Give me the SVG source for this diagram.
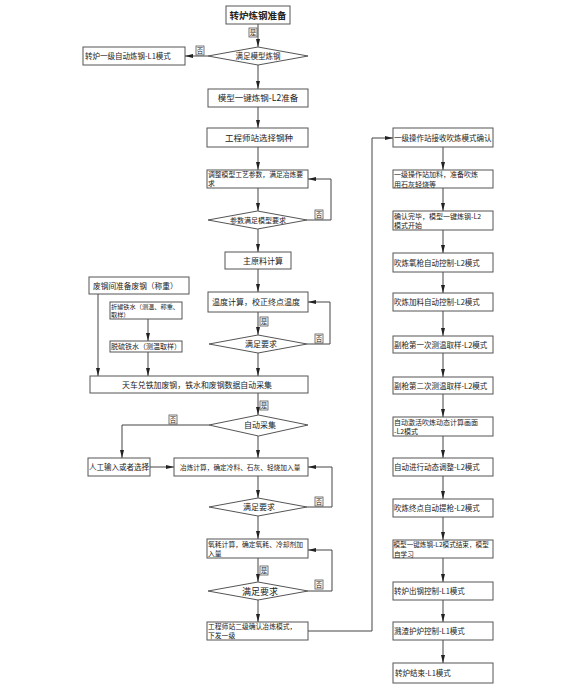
<svg xmlns="http://www.w3.org/2000/svg" width="566" height="690" viewBox="0 0 566 690">
<defs>
<marker id="ah" markerUnits="userSpaceOnUse" markerWidth="8" markerHeight="4" refX="8" refY="2" orient="auto">
<path d="M0,0 L8,2 L0,4 z" fill="#222"/>
</marker>
<style>
.b{fill:#fff;stroke:#555;stroke-width:1}
.c{fill:none;stroke:#444;stroke-width:1;marker-end:url(#ah)}
.l{fill:none;stroke:#444;stroke-width:1}
text{font-family:"Noto Sans CJK SC","Noto Sans",sans-serif;fill:#222}
.m{text-anchor:middle}
.lb{fill:#fff;stroke:#555;stroke-width:0.8}
.t{font-size:6.5px}
</style>
</defs>
<rect width="566" height="690" fill="#fff"/>

<g id="connectors">
<path class="c" d="M258,24 V47"/>
<path class="c" d="M208,56 H185"/>
<path class="c" d="M258,65 V89"/>
<path class="c" d="M258,107 V128"/>
<path class="c" d="M258,147 V170"/>
<path class="c" d="M258,188 V211"/>
<path class="c" d="M307,220 H331 V179 H308"/>
<path class="c" d="M258,229 V252"/>
<path class="c" d="M258,269 V292"/>
<path class="c" d="M258,312 V335"/>
<path class="c" d="M307,344 H330 V302 H308"/>
<path class="c" d="M258,353 V376"/>
<path class="c" d="M98,294 V376"/>
<path class="c" d="M148,319 V341"/>
<path class="c" d="M148,352 V376"/>
<path class="c" d="M258,393 V415"/>
<path class="c" d="M209,425 H122 V458"/>
<path class="c" d="M258,436 V458"/>
<path class="c" d="M150,467 H174"/>
<path class="c" d="M258,476 V498"/>
<path class="c" d="M307,507 H332 V467 H308"/>
<path class="c" d="M258,516 V539"/>
<path class="c" d="M258,558 V582"/>
<path class="c" d="M308,591 H332 V550 H308"/>
<path class="c" d="M258,600 V622"/>
<path class="c" d="M308,631 H372 V138 H393"/>
<path class="c" d="M443,147 V170"/>
<path class="c" d="M443,188 V211"/>
<path class="c" d="M443,230 V253"/>
<path class="c" d="M443,272 V293"/>
<path class="c" d="M443,311 V336"/>
<path class="c" d="M443,353 V377"/>
<path class="c" d="M443,394 V417"/>
<path class="c" d="M443,436 V458"/>
<path class="c" d="M443,476 V499"/>
<path class="c" d="M443,517 V540"/>
<path class="c" d="M443,558 V582"/>
<path class="c" d="M443,600 V622"/>
<path class="c" d="M443,640 V663"/>
<g id="labels">
<rect class="lb" x="249" y="28" width="8" height="9"/><text class="t m" x="253" y="35">是</text>
<rect class="lb" x="196" y="46" width="8" height="9"/><text class="t m" x="200" y="53">否</text>
<rect class="lb" x="315" y="210" width="8" height="9"/><text class="t m" x="319" y="217">否</text>
<rect class="lb" x="260" y="317" width="8" height="9"/><text class="t m" x="264" y="324">是</text>
<rect class="lb" x="315" y="334" width="8" height="9"/><text class="t m" x="319" y="341">否</text>
<rect class="lb" x="260" y="401" width="8" height="9"/><text class="t m" x="264" y="408">是</text>
<rect class="lb" x="169" y="415" width="8" height="9"/><text class="t m" x="173" y="422">否</text>
<rect class="lb" x="315" y="497" width="8" height="9"/><text class="t m" x="319" y="504">否</text>
<rect class="lb" x="260" y="566" width="8" height="9"/><text class="t m" x="264" y="573">是</text>
<rect class="lb" x="315" y="580" width="8" height="9"/><text class="t m" x="319" y="587">否</text>
</g>
</g>

<g id="n1"><rect class="b" x="226" y="6" width="64" height="18"/><text class="m" x="258" y="19" font-size="9.5" font-weight="bold">转炉炼钢准备</text></g>
<g id="d1"><path class="b" d="M208,56 L258,47 L308,56 L258,65 z"/><text class="m" x="258" y="59" font-size="7.5">满足模型炼钢</text></g>
<g id="n2"><rect class="b" x="83" y="47" width="102" height="18"/><text x="85" y="59" font-size="7.5">转炉一级自动炼钢-L1模式</text></g>
<g id="n3"><rect class="b" x="208" y="89" width="100" height="18"/><text class="m" x="258" y="101" font-size="8.5">模型一键炼钢-L2准备</text></g>
<g id="n4"><rect class="b" x="207" y="128" width="101" height="19"/><text class="m" x="259" y="141" font-size="8.5">工程师站选择钢种</text></g>
<g id="n5"><rect class="b" x="207" y="170" width="101" height="18"/><text x="208" y="177" font-size="6.8">调整模型工艺参数，满足冶炼要</text><text x="208" y="186" font-size="6.8">求</text></g>
<g id="d2"><path class="b" d="M208,220 L257.5,211 L307,220 L257.5,229 z"/><text class="m" x="258" y="223" font-size="7">参数满足模型要求</text></g>
<g id="n6"><rect class="b" x="225" y="252" width="66" height="17"/><text class="m" x="263" y="263.5" font-size="8">主原料计算</text></g>
<g id="n7"><rect class="b" x="89" y="277" width="100" height="17"/><text x="93" y="288.5" font-size="7.7">废钢间准备废钢（称重）</text></g>
<g id="n8"><rect class="b" x="110" y="302" width="72" height="17"/><text x="111" y="309" font-size="6.2">折罐铁水（测温、称重、</text><text x="111" y="317" font-size="6.2">取样）</text></g>
<g id="n9"><rect class="b" x="110" y="341" width="72" height="11"/><text x="111" y="349" font-size="7">脱硫铁水（测温取样）</text></g>
<g id="n10"><rect class="b" x="208" y="292" width="100" height="20"/><text x="212" y="305" font-size="8">温度计算，校正终点温度</text></g>
<g id="d3"><path class="b" d="M209,344 L258,335 L307,344 L258,353 z"/><text class="m" x="261" y="347" font-size="8">满足要求</text></g>
<g id="n11"><rect class="b" x="90" y="376" width="218" height="17"/><text x="122" y="387.5" font-size="7.9">天车兑铁加废钢，铁水和废钢数据自动采集</text></g>
<g id="d4"><path class="b" d="M209,425 L258.5,415 L308,425 L258.5,436 z"/><text class="m" x="260" y="428" font-size="8">自动采集</text></g>
<g id="n12"><rect class="b" x="88" y="458" width="62" height="18"/><text x="89" y="470" font-size="7.5">人工输入或者选择</text></g>
<g id="n13"><rect class="b" x="174" y="458" width="134" height="18"/><text x="180" y="469.5" font-size="6.7">冶炼计算，确定冷料、石灰、轻烧加入量</text></g>
<g id="d5"><path class="b" d="M209,507 L258,498 L307,507 L258,516 z"/><text class="m" x="259" y="510" font-size="8">满足要求</text></g>
<g id="n14"><rect class="b" x="207" y="539" width="101" height="19"/><text x="208" y="546.5" font-size="6.8">氧耗计算，确定氧耗、冷却剂加</text><text x="208" y="556" font-size="6.8">入量</text></g>
<g id="d6"><path class="b" d="M208,591 L258,582 L308,591 L258,600 z"/><text class="m" x="260" y="594.5" font-size="9">满足要求</text></g>
<g id="n15"><rect class="b" x="207" y="622" width="101" height="18"/><text x="208" y="629" font-size="6.8">工程师站二级确认冶炼模式，</text><text x="208" y="638" font-size="6.8">下发一级</text></g>

<g id="r1"><rect class="b" x="393" y="128" width="100" height="19"/><text x="394" y="140.5" font-size="7.5">一级操作站接收吹炼模式确认</text></g>
<g id="r2"><rect class="b" x="393" y="170" width="100" height="18"/><text x="394" y="177" font-size="7">一级操作站加料，准备吹炼</text><text x="394" y="186.5" font-size="7">用石灰轻烧等</text></g>
<g id="r3"><rect class="b" x="393" y="211" width="100" height="19"/><text x="394" y="218.5" font-size="7">确认完毕，模型一键炼钢-L2</text><text x="394" y="228" font-size="7">模式开始</text></g>
<g id="r4"><rect class="b" x="393" y="253" width="100" height="19"/><text x="394" y="265.5" font-size="7.5">吹炼氧枪自动控制-L2模式</text></g>
<g id="r5"><rect class="b" x="393" y="293" width="100" height="18"/><text x="394" y="305" font-size="7.5">吹炼加料自动控制-L2模式</text></g>
<g id="r6"><rect class="b" x="393" y="336" width="100" height="17"/><text x="394" y="347.5" font-size="7.5">副枪第一次测温取样-L2模式</text></g>
<g id="r7"><rect class="b" x="393" y="377" width="100" height="17"/><text x="394" y="388.5" font-size="7.5">副枪第二次测温取样-L2模式</text></g>
<g id="r8"><rect class="b" x="393" y="417" width="100" height="19"/><text x="394" y="424.5" font-size="7">自动激活吹炼动态计算画面</text><text x="394" y="434" font-size="7">-L2模式</text></g>
<g id="r9"><rect class="b" x="393" y="458" width="100" height="18"/><text x="394" y="470" font-size="7.5">自动进行动态调整-L2模式</text></g>
<g id="r10"><rect class="b" x="393" y="499" width="100" height="18"/><text x="394" y="511" font-size="7.5">吹炼终点自动提枪-L2模式</text></g>
<g id="r11"><rect class="b" x="393" y="540" width="100" height="18"/><text x="393.5" y="547" font-size="6.6">模型一键炼钢-L2模式结束，模型</text><text x="394" y="556.5" font-size="6.6">自学习</text></g>
<g id="r12"><rect class="b" x="393" y="582" width="100" height="18"/><text x="394" y="594" font-size="7.5">转炉出钢控制-L1模式</text></g>
<g id="r13"><rect class="b" x="393" y="622" width="100" height="18"/><text x="394" y="634" font-size="7.5">溅渣护炉控制-L1模式</text></g>
<g id="r14"><rect class="b" x="393" y="663" width="100" height="20"/><text x="395" y="676" font-size="7.5">转炉结束-L1模式</text></g>
</svg>
